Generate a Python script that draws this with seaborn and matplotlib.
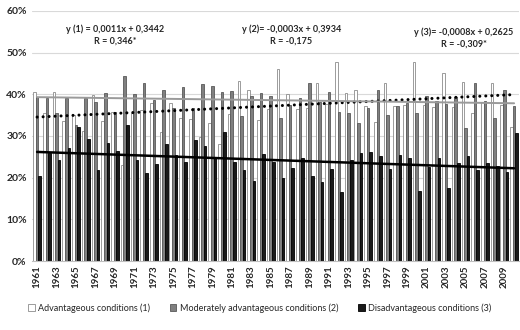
import numpy as np
import pandas as pd
import matplotlib
matplotlib.use("Agg")
import matplotlib.pyplot as plt
import seaborn as sns
from matplotlib.ticker import PercentFormatter
from matplotlib.patches import Patch

years = list(range(1961, 2011))
adv = [40.6, 35.4, 40.6, 33.7, 35.0, 31.3, 39.8, 33.5, 35.8, 23.0,
       35.4, 36.2, 37.8, 30.9, 37.8, 34.4, 34.0, 29.8, 33.0, 28.0,
       35.2, 43.2, 41.0, 33.8, 36.5, 46.0, 40.0, 36.4, 36.8, 42.8,
       37.6, 47.8, 40.2, 41.0, 37.2, 33.4, 42.8, 37.2, 37.4, 47.8,
       37.4, 37.0, 45.0, 37.0, 43.0, 35.4, 38.1, 42.6, 37.4, 32.2]
mod = [39.3, 39.0, 35.5, 39.0, 32.6, 39.0, 38.2, 40.4, 35.8, 44.5,
       40.0, 42.6, 38.6, 41.0, 36.8, 41.8, 36.8, 42.5, 42.1, 40.6,
       40.9, 34.8, 39.7, 40.4, 39.7, 34.2, 37.4, 39.2, 42.8, 38.1,
       40.6, 35.8, 35.4, 33.0, 36.8, 41.0, 35.0, 37.2, 37.8, 35.4,
       39.7, 38.4, 37.6, 39.4, 31.8, 42.8, 38.4, 34.4, 41.0, 37.3]
dis = [20.5, 26.0, 24.2, 27.2, 32.2, 29.3, 21.9, 28.3, 26.5, 32.6,
       24.2, 21.0, 23.3, 28.0, 25.4, 23.7, 29.0, 27.7, 24.6, 31.0,
       23.8, 21.8, 19.2, 25.6, 23.8, 19.8, 22.4, 24.6, 20.5, 19.0,
       22.1, 16.5, 24.2, 25.8, 26.1, 25.3, 22.1, 25.4, 24.6, 16.8,
       22.6, 24.6, 17.4, 23.4, 25.2, 21.8, 23.6, 22.9, 21.4, 30.6]

series_names = ["Advantageous conditions (1)",
                "Moderately advantageous conditions (2)",
                "Disadvantageous conditions (3)"]
slopes = [0.0011, -0.0003, -0.0008]
intercepts = [0.3442, 0.3934, 0.2625]
eq_labels = ["y (1) = 0,0011x + 0,3442\nR = 0,346*",
             "y (2)= -0,0003x + 0,3934\nR = -0,175",
             "y (3)= -0,0008x + 0,2625\nR = -0,309*"]

sns.set_theme(style="white")
plt.rcParams["font.family"] = ["Lato", "DejaVu Sans"]

df = pd.DataFrame({
    "year": years * 3,
    "value": [v / 100 for v in adv + mod + dis],
    "cond": [n for n in series_names for _ in years],
})

fill_colors = ["#ffffff", "#808080", "#1a1a1a"]
edge_colors = ["#8c8c8c", "#595959", "#000000"]

fig = plt.figure(figsize=(5.2, 3.3), dpi=100)
ax = fig.add_axes([0.062, 0.209, 0.936, 0.758])

sns.barplot(data=df, x="year", y="value", hue="cond", hue_order=series_names,
            palette=fill_colors, saturation=1, width=0.8, ax=ax, legend=False,
            errorbar=None)
for cont, ec in zip(ax.containers, edge_colors):
    for bar in cont:
        bar.set_edgecolor(ec)
        bar.set_linewidth(0.6)

idx = np.arange(len(years))
line_styles = [
    dict(color="black", lw=2.2, ls=(0, (0.01, 1.95)), dash_capstyle="round"),
    dict(color="#9a9a9a", lw=1.4, ls="-"),
    dict(color="black", lw=1.8, ls="-"),
]
for a, b, st in zip(slopes, intercepts, line_styles):
    ax.plot(idx, a * (idx + 1) + b, zorder=5, **st)

text_pos = [(8.0, 0.542), (26.1, 0.542), (43.8, 0.535)]
for (tx, ty), lab in zip(text_pos, eq_labels):
    ax.text(tx, ty, lab, ha="center", va="center", fontsize=6.5,
            fontweight="bold", color="#262626", linespacing=1.5)

ax.set_ylim(0, 0.6)
ax.set_xlim(-0.5, len(years) - 0.5)
ax.set_yticks(np.arange(0, 0.61, 0.1))
ax.yaxis.set_major_formatter(PercentFormatter(1.0, decimals=0))
ax.yaxis.grid(True, color="#d9d9d9", lw=0.8)
ax.set_axisbelow(True)
ax.set_xticks(idx[::2])
ax.set_xticklabels([str(y) for y in years[::2]], rotation=90)
ax.set_xticks(np.arange(-0.5, len(years), 1), minor=True)
ax.tick_params(axis="x", which="major", length=0, labelsize=7, pad=3,
               labelcolor="#262626")
ax.tick_params(axis="x", which="minor", length=3, color="#bfbfbf", width=0.6)
ax.tick_params(axis="y", length=0, labelsize=7.5, labelcolor="#262626", pad=4)
for lab in ax.get_xticklabels() + ax.get_yticklabels():
    lab.set_fontweight("bold")
ax.set_xlabel("")
ax.set_ylabel("")
for s in ["top", "right", "left"]:
    ax.spines[s].set_visible(False)
ax.spines["bottom"].set_color("#bfbfbf")
ax.spines["bottom"].set_linewidth(0.8)

handles = [Patch(facecolor=fc, edgecolor=ec, lw=0.6)
           for fc, ec in zip(fill_colors, edge_colors)]
fig.legend(handles, series_names, loc="center", bbox_to_anchor=(0.5, 0.067),
           ncol=3, frameon=False, fontsize=6.5, handlelength=0.7,
           handleheight=0.7, handletextpad=0.4, columnspacing=2.2)

fig.savefig("out.png", dpi=100)
